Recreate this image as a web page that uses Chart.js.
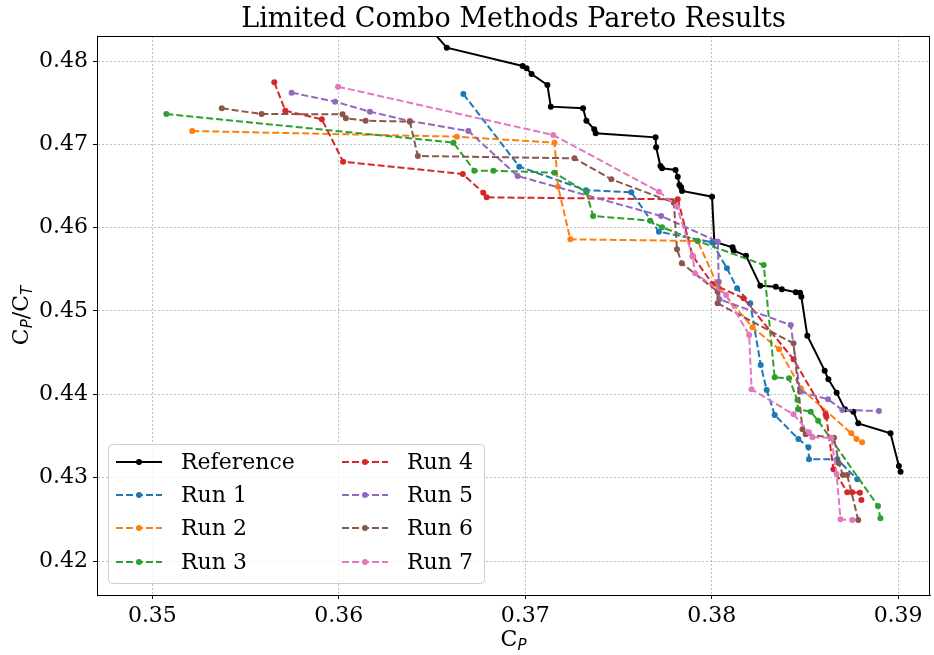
<!DOCTYPE html>
<html>
<head>
<meta charset="utf-8">
<script src="https://cdn.jsdelivr.net/npm/chart.js@4.4.0/dist/chart.umd.min.js"></script>
<style>
html,body{margin:0;padding:0;background:#fff;}
#wrap{width:934px;height:655px;position:relative;}
</style>
</head>
<body>
<div id="wrap"><canvas id="c" width="934" height="655"></canvas></div>
<script>
// ---- data ----
const titleText = "Limited Combo Methods Pareto Results";
const seriesNames = ["Reference","Run 1","Run 2","Run 3","Run 4","Run 5","Run 6","Run 7"];
const xTicks = [0.35,0.36,0.37,0.38,0.39];
const yTicks = [0.42,0.43,0.44,0.45,0.46,0.47,0.48];

const refCp = [0.3645,0.36579,0.36986,0.37007,0.37034,0.37119,0.37137,0.37310,0.37328,0.37370,0.37378,0.37699,0.37702,0.37725,0.37734,0.37806,0.37818,0.37827,0.37836,0.37841,0.38002,0.38014,0.38112,0.38118,0.38184,0.38261,0.38344,0.38376,0.38451,0.38474,0.38481,0.38513,0.38606,0.38626,0.38670,0.38715,0.38760,0.38786,0.38959,0.39004,0.39013];
const refRatio = [0.4849,0.4816,0.4794,0.47912,0.47844,0.47712,0.47452,0.47432,0.47284,0.4718,0.47132,0.47084,0.46964,0.4674,0.46712,0.46692,0.46612,0.46512,0.46484,0.4644,0.46372,0.45832,0.45764,0.45724,0.45664,0.45304,0.45292,0.4526,0.45224,0.4522,0.45172,0.44704,0.44284,0.4418,0.4402,0.4382,0.43792,0.43652,0.43532,0.4314,0.43072];

const run1Cp = [0.36668,0.36968,0.37326,0.37569,0.37717,0.38002,0.38082,0.38136,0.38207,0.38263,0.38295,0.38338,0.38465,0.38519,0.38522,0.38674,0.38781];
const run1Ratio = [0.47604,0.46732,0.4645,0.46424,0.45952,0.45824,0.45512,0.45272,0.45092,0.44352,0.44052,0.43752,0.43464,0.43364,0.4322,0.4322,0.4298];

const run2Cp = [0.35214,0.36633,0.37157,0.37176,0.37242,0.37925,0.38035,0.38219,0.38362,0.38478,0.38749,0.38777,0.38807];
const run2Ratio = [0.4716,0.47092,0.4702,0.46492,0.4586,0.4584,0.45292,0.44804,0.44541,0.44072,0.43532,0.43464,0.43424];

const run3Cp = [0.35075,0.36615,0.36727,0.36829,0.37157,0.37328,0.37364,0.37670,0.37734,0.37925,0.38279,0.38338,0.38415,0.38460,0.38463,0.38531,0.38571,0.38892,0.38905];
const run3Ratio = [0.47364,0.4702,0.46684,0.46684,0.4666,0.46424,0.4614,0.46084,0.46004,0.4584,0.45552,0.44204,0.44192,0.43932,0.4382,0.43792,0.43684,0.4266,0.42512];

const run4Cp = [0.35654,0.35713,0.35909,0.36023,0.36665,0.36775,0.36793,0.37818,0.37898,0.38005,0.38171,0.38439,0.38611,0.38615,0.38653,0.38727,0.38754,0.38795,0.38803];
const run4Ratio = [0.47744,0.47404,0.473,0.46792,0.46644,0.4642,0.46364,0.4634,0.4566,0.45324,0.45152,0.4442,0.4376,0.43732,0.431,0.42824,0.42824,0.4282,0.42732];

const run5Cp = [0.35747,0.3598,0.36167,0.36381,0.36695,0.36959,0.37729,0.38033,0.38038,0.38042,0.38424,0.38474,0.38624,0.38701,0.38897];
const run5Ratio = [0.4762,0.47512,0.47392,0.4728,0.4716,0.4662,0.4614,0.45832,0.45352,0.4514,0.44832,0.44032,0.4394,0.43812,0.438];

const run6Cp = [0.35372,0.35586,0.3602,0.36038,0.36144,0.36381,0.36424,0.37264,0.37462,0.37797,0.37814,0.3784,0.38032,0.38032,0.38439,0.38487,0.38504,0.38656,0.38682,0.38704,0.38727,0.38786];
const run6Ratio = [0.47432,0.47364,0.4736,0.47312,0.47284,0.47272,0.4686,0.46832,0.4658,0.463,0.4574,0.45572,0.45232,0.45092,0.44612,0.4358,0.4352,0.4348,0.43172,0.43032,0.43032,0.42492];

const run7Cp = [0.35996,0.3715,0.37717,0.37814,0.37898,0.37911,0.38077,0.38201,0.38214,0.38439,0.38522,0.3854,0.38642,0.3867,0.38691,0.38754];
const run7Ratio = [0.47692,0.47112,0.46432,0.46252,0.45652,0.45452,0.45192,0.44712,0.4406,0.4376,0.43544,0.43484,0.4348,0.43044,0.425,0.42492];

const seriesCp = [refCp,run1Cp,run2Cp,run3Cp,run4Cp,run5Cp,run6Cp,run7Cp];
const seriesRatio = [refRatio,run1Ratio,run2Ratio,run3Ratio,run4Ratio,run5Ratio,run6Ratio,run7Ratio];
const colors = ["#000000","#1f77b4","#ff7f0e","#2ca02c","#d62728","#9467bd","#8c564b","#e377c2"];

// ---- build ----
const SERIF = "'DejaVu Serif', serif";
const DASH = [7,3];

const datasets = seriesNames.map((name,i)=>({
  label: name,
  data: seriesCp[i].map((x,j)=>({x:x, y:seriesRatio[i][j]})),
  showLine: true,
  borderColor: colors[i],
  backgroundColor: colors[i],
  borderWidth: 2,
  borderDash: i===0 ? [] : DASH,
  pointRadius: 3,
  pointBorderWidth: 0,
  pointBackgroundColor: colors[i],
  tension: 0,
  order: seriesNames.length - i
}));

function drawMath(ctx, parts, x, y, rot){
  ctx.save();
  ctx.translate(x,y);
  if(rot) ctx.rotate(rot);
  ctx.fillStyle = "#000";
  ctx.textBaseline = "alphabetic";
  ctx.textAlign = "left";
  let w = 0;
  parts.forEach(p=>{ ctx.font = p.sub ? "italic 15px 'DejaVu Sans'" : "22px " + SERIF; p.w = ctx.measureText(p.t).width; w += p.w; });
  let cx = -w/2;
  parts.forEach(p=>{
    ctx.font = p.sub ? "italic 15px 'DejaVu Sans'" : "22px " + SERIF;
    ctx.fillText(p.t, cx, p.sub ? 12 : 8);
    cx += p.w;
  });
  ctx.restore();
}

const decor = {
  id: 'decor',
  afterDraw(chart){
    const ctx = chart.ctx, a = chart.chartArea;
    // frame (all four spines)
    ctx.save();
    ctx.strokeStyle = "#000"; ctx.lineWidth = 1;
    ctx.setLineDash([]);
    ctx.strokeRect(Math.round(a.left)+0.5, Math.round(a.top)+0.5, Math.round(a.right-a.left)-1, Math.round(a.bottom-a.top));
    ctx.restore();
    // axis titles
    drawMath(ctx, [{t:"C"},{t:"P",sub:true}], (a.left+a.right)/2, 638);
    drawMath(ctx, [{t:"C"},{t:"P",sub:true},{t:"/C"},{t:"T",sub:true}], 20, (a.top+a.bottom)/2, -Math.PI/2);
    // legend
    const bx = a.left + 11, bw = 376, bh = 139, by = a.bottom - 12 - bh;
    ctx.save();
    ctx.fillStyle = "rgba(255,255,255,0.8)";
    ctx.strokeStyle = "#cccccc"; ctx.lineWidth = 1;
    ctx.beginPath();
    if (ctx.roundRect) ctx.roundRect(bx+0.5, by+0.5, bw, bh, 4); else ctx.rect(bx+0.5, by+0.5, bw, bh);
    ctx.fill(); ctx.stroke();
    const rows = [18, 51, 84, 118];
    chart.data.datasets.forEach((ds,i)=>{
      const col = i < 4 ? 0 : 1;
      const row = i % 4;
      const lx = bx + 8 + col*226;
      const ly = by + rows[row];
      ctx.strokeStyle = ds.borderColor; ctx.lineWidth = 2;
      ctx.setLineDash(ds.borderDash);
      ctx.beginPath(); ctx.moveTo(lx, ly); ctx.lineTo(lx+46, ly); ctx.stroke();
      ctx.setLineDash([]);
      ctx.fillStyle = ds.borderColor;
      ctx.beginPath(); ctx.arc(lx+23, ly, 3, 0, Math.PI*2); ctx.fill();
      ctx.fillStyle = "#000";
      ctx.font = "22px " + SERIF;
      ctx.textBaseline = "middle"; ctx.textAlign = "left";
      ctx.fillText(ds.label, lx+65, ly+1);
    });
    ctx.restore();
  }
};

new Chart(document.getElementById('c'), {
  type: 'scatter',
  data: { datasets },
  options: {
    responsive: false,
    animation: false,
    devicePixelRatio: 1,
    layout: { padding: { left: 0, right: 1, top: 0, bottom: 0 } },
    plugins: {
      legend: { display: false },
      tooltip: { enabled: false },
      title: {
        display: true,
        text: titleText,
        color: "#000",
        fullSize: false,
        align: 'center',
        font: { family: SERIF, size: 27, weight: 'normal', lineHeight: 1.2 },
        padding: { top: 3.6, bottom: 0 }
      }
    },
    scales: {
      x: {
        type: 'linear',
        min: 0.34703, max: 0.39171,
        afterFit(s){ s.height = 60; },
        afterBuildTicks(s){ s.ticks = xTicks.map(v=>({value:v})); },
        border: { display: true, color: "#000", width: 1, dash: [2,2] },
        grid: { color: "#b0b0b0", lineWidth: 0.8, drawTicks: true, tickLength: 4, tickColor: "#000", tickWidth: 1, tickBorderDash: [] },
        ticks: { color: "#000", font: { family: SERIF, size: 22 }, padding: 4, maxRotation: 0, autoSkip: false, callback: v => v.toFixed(2) }
      },
      y: {
        type: 'linear',
        min: 0.41592, max: 0.48300,
        afterFit(s){ s.width = 97; },
        afterBuildTicks(s){ s.ticks = yTicks.map(v=>({value:v})); },
        border: { display: true, color: "#000", width: 1, dash: [2,2] },
        grid: { color: "#b0b0b0", lineWidth: 0.8, drawTicks: true, tickLength: 4, tickColor: "#000", tickWidth: 1, tickBorderDash: [] },
        ticks: { color: "#000", font: { family: SERIF, size: 22 }, padding: 5, autoSkip: false, callback: v => v.toFixed(2) }
      }
    }
  },
  plugins: [decor]
});
</script>
</body>
</html>
